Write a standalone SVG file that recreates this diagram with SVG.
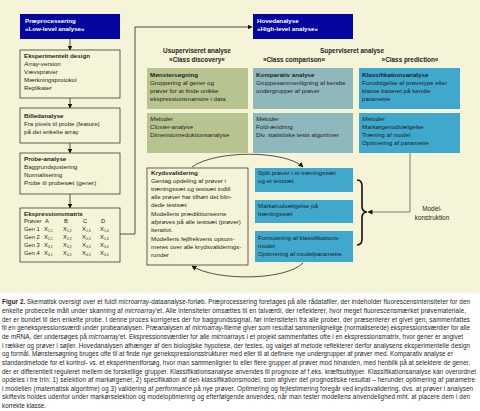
<svg xmlns="http://www.w3.org/2000/svg" width="480" height="411" viewBox="0 0 480 411">
<defs>
<style>
text{font-family:"Liberation Sans",Arial,sans-serif;font-size:6.2px;fill:#1e1e1e}
.b{font-weight:bold}
.i{font-style:italic}
.w{fill:#ffffff}
.hd{font-size:6.4px;text-anchor:middle}
.box{fill:#f6f4d8;stroke:#3c3c30;stroke-width:0.8}
.blue{fill:#0505a0}
.green{fill:#b7c48f}
.teal{fill:#8fb8bc}
.cyan{fill:#3fa8cc}
.ln{fill:none;stroke:#2a2a22;stroke-width:0.8}
.cap{font-size:6.3px}
.m{font-size:5.8px}
.s{font-size:3.4px}
</style>
<marker id="ah" viewBox="0 0 10 10" refX="9" refY="5" markerWidth="5" markerHeight="5" orient="auto" markerUnits="userSpaceOnUse">
<path d="M0,0 L10,5 L0,10 Z" fill="#111"/>
</marker>
</defs>
<rect x="0" y="0" width="480" height="411" fill="#ffffff"/>
<rect x="0" y="0" width="480" height="293" fill="#f6f4d8"/>

<g id="connectors">
<line class="ln" x1="70" y1="39" x2="70" y2="50" marker-end="url(#ah)"/>
<line class="ln" x1="70" y1="98" x2="70" y2="108" marker-end="url(#ah)"/>
<line class="ln" x1="70" y1="143" x2="70" y2="153" marker-end="url(#ah)"/>
<line class="ln" x1="70" y1="194" x2="70" y2="208" marker-end="url(#ah)"/>
<polyline class="ln" points="120,234 135,234 135,27 252,27" marker-end="url(#ah)"/>
<path class="ln" d="M192,167 C215,150 285,150 303,167" marker-end="url(#ah)"/>
<path class="ln" d="M303,263 C285,281 215,281 192,266" marker-end="url(#ah)"/>
<path d="M357,180 Q362,180 362,186 L362,206 Q362,212 367,212 Q362,212 362,218 L362,239 Q362,245 357,245" fill="none" stroke="#111" stroke-width="1.6"/>
<polyline points="410,153 410,212 368,212" fill="none" stroke="#5e5e50" stroke-width="0.8" marker-end="url(#ah)"/>
</g>

<g id="praeprocessering">
<rect class="blue" x="20" y="14" width="100" height="25"/>
<text class="w b" x="25" y="23">Præprocessering</text>
<text class="w b" x="25" y="31">»Low-level analyse«</text>
</g>

<g id="eksperimentelt-design">
<rect class="box" x="20" y="50" width="100" height="48"/>
<text class="b" x="24" y="58">Eksperimentelt design</text>
<text x="24" y="66"><tspan class="i">Array</tspan>-version</text>
<text x="24" y="74">Vævsprøver</text>
<text x="24" y="82">Mærkningsprotokol</text>
<text x="24" y="90">Replikater</text>
</g>

<g id="billedanalyse">
<rect class="box" x="20" y="108" width="100" height="35"/>
<text class="b" x="24" y="118">Billedanalyse</text>
<text x="24" y="126">Fra pixels til probe (feature)</text>
<text x="24" y="134">på det enkelte array</text>
</g>

<g id="probe-analyse">
<rect class="box" x="20" y="153" width="100" height="41"/>
<text class="b" x="24" y="161">Probe-analyse</text>
<text x="24" y="169">Baggrundsjustering</text>
<text x="24" y="177">Normalisering</text>
<text x="24" y="185">Probe til probesæt (gener)</text>
</g>

<g id="ekspressionsmatrix">
<rect class="box" x="20" y="208" width="100" height="54"/>
<text class="b" x="24" y="216">Ekspressionsmatrix</text>
<text class="m" x="24" y="223">Prøver</text>
<text class="m" x="45" y="223">A</text><text class="m" x="64" y="223">B</text><text class="m" x="83" y="223">C</text><text class="m" x="101" y="223">D</text>
<text class="m" x="24" y="231">Gen 1</text>
<text class="m" x="44" y="231">X<tspan class="s" dy="1">1,1</tspan></text>
<text class="m" x="63" y="231">X<tspan class="s" dy="1">1,2</tspan></text>
<text class="m" x="82" y="231">X<tspan class="s" dy="1">1,3</tspan></text>
<text class="m" x="100" y="231">X<tspan class="s" dy="1">1,4</tspan></text>
<text class="m" x="24" y="239">Gen 2</text>
<text class="m" x="44" y="239">X<tspan class="s" dy="1">2,1</tspan></text>
<text class="m" x="63" y="239">X<tspan class="s" dy="1">2,2</tspan></text>
<text class="m" x="82" y="239">X<tspan class="s" dy="1">2,3</tspan></text>
<text class="m" x="100" y="239">X<tspan class="s" dy="1">2,4</tspan></text>
<text class="m" x="24" y="247">Gen 3</text>
<text class="m" x="44" y="247">X<tspan class="s" dy="1">3,1</tspan></text>
<text class="m" x="63" y="247">X<tspan class="s" dy="1">3,2</tspan></text>
<text class="m" x="82" y="247">X<tspan class="s" dy="1">3,3</tspan></text>
<text class="m" x="100" y="247">X<tspan class="s" dy="1">3,4</tspan></text>
<text class="m" x="24" y="255">Gen 4</text>
<text class="m" x="44" y="255">X<tspan class="s" dy="1">4,1</tspan></text>
<text class="m" x="63" y="255">X<tspan class="s" dy="1">4,2</tspan></text>
<text class="m" x="82" y="255">X<tspan class="s" dy="1">4,3</tspan></text>
<text class="m" x="100" y="255">X<tspan class="s" dy="1">4,4</tspan></text>
</g>

<g id="hovedanalyse">
<rect class="blue" x="253" y="14" width="100" height="25"/>
<text class="w b" x="257" y="23">Hovedanalyse</text>
<text class="w b" x="257" y="31">»High-level analyse«</text>
</g>

<g id="headers">
<text class="b hd" x="197" y="53">Usuperviseret analyse</text>
<text class="b hd" x="197" y="62">»Class discovery«</text>
<text class="b hd" x="352" y="53">Superviseret analyse</text>
<text class="b hd" x="294" y="62">»Class comparison«</text>
<text class="b hd" x="410" y="62">»Class prediction«</text>
</g>

<g id="moenstersoegning">
<rect class="green" x="147" y="68" width="101" height="41"/>
<text class="b" x="150" y="77">Mønstersøgning</text>
<text x="150" y="85">Gruppering af gener og</text>
<text x="150" y="93">prøver for at finde unikke</text>
<text x="150" y="101">ekspressionsmønstre i data</text>
</g>

<g id="metoder-discovery">
<rect class="green" x="147" y="113" width="101" height="40"/>
<text class="i" x="150" y="121">Metoder</text>
<text class="i" x="150" y="129">Cluster-analyse</text>
<text x="150" y="137">Dimensionreduktionsanalyse</text>
</g>

<g id="komparativ">
<rect class="teal" x="253" y="68" width="100" height="41"/>
<text class="b" x="256" y="77">Komparativ analyse</text>
<text x="256" y="85">Gruppesammenligning af kendte</text>
<text x="256" y="93">undergrupper af prøver</text>
</g>

<g id="metoder-comparison">
<rect class="teal" x="253" y="113" width="100" height="40"/>
<text class="i" x="256" y="121">Metoder</text>
<text x="256" y="129">Fold-ændring</text>
<text x="256" y="137">Div. statistiske tests algoritmer</text>
</g>

<g id="klassifikation">
<rect class="cyan" x="359" y="68" width="101" height="41"/>
<text class="b" x="362" y="77">Klassifikationsanalyse</text>
<text x="362" y="85">Forudsigelse af prøvetype eller</text>
<text x="362" y="93">klasse baseret på kendte</text>
<text x="362" y="101">parametre</text>
</g>

<g id="metoder-prediction">
<rect class="cyan" x="359" y="113" width="101" height="40"/>
<text class="i" x="362" y="121">Metoder</text>
<text x="362" y="129">Markørgenudvælgelse</text>
<text x="362" y="137">Træning af model</text>
<text x="362" y="145">Optimering af parametre</text>
</g>

<g id="krydsvalidering">
<rect class="box" x="147" y="168" width="101" height="97"/>
<text class="b" x="151" y="175">Krydsvalidering</text>
<text x="151" y="183">Gentag opdeling af prøver i</text>
<text x="151" y="191">træningssæt og testsæt indtil</text>
<text x="151" y="199">alle prøver har tilhørt det blin-</text>
<text x="151" y="207">dede testsæt</text>
<text x="151" y="216">Modellens prædiktionsevne</text>
<text x="151" y="224">afprøves på alle testsæt (prøver)</text>
<text x="151" y="232">iterativt.</text>
<text x="151" y="241">Modellens fejlfrekvens opsum-</text>
<text x="151" y="249">meres over alle krydsvaliderings-</text>
<text x="151" y="257">runder</text>
</g>

<g id="split">
<rect class="cyan" x="255" y="168" width="98" height="24"/>
<text x="258" y="175">Split prøver i et træningssæt</text>
<text x="258" y="183">og et testsæt</text>
</g>

<g id="markoerudvaelgelse">
<rect class="cyan" x="255" y="200" width="98" height="23"/>
<text x="258" y="208">Markørudvælgelse på</text>
<text x="258" y="216">træningssæt</text>
</g>

<g id="formulering">
<rect class="cyan" x="255" y="231" width="98" height="31"/>
<text x="258" y="240">Formulering af klassifikations-</text>
<text x="258" y="248">model</text>
<text x="258" y="256">Optimering af modelparametre</text>
</g>

<g id="modelkonstruktion">
<text class="hd" x="432" y="211">Model-</text>
<text class="hd" x="432" y="220">konstruktion</text>
</g>

<g id="caption">
<text class="cap" x="2" y="304" textLength="468" lengthAdjust="spacing"><tspan class="b">Figur 2.</tspan> Skematisk oversigt over et fuldt <tspan class="i">microarray</tspan>-dataanalyse-forløb. Præprocessering foretages på alle rådatafiler, der indeholder fluorescensintensiteter for den</text>
<text class="cap" x="2" y="313" textLength="464" lengthAdjust="spacing">enkelte probecelle målt under skanning af <tspan class="i">microarray</tspan>'et. Alle intensiteter omsættes til en talværdi, der reflekterer, hvor meget fluorescensmærket prøvemateriale,</text>
<text class="cap" x="2" y="322" textLength="468" lengthAdjust="spacing">der er bundet til den enkelte probe. I denne proces korrigeres der for baggrundssignal, før intensiteten fra alle prober, der præsenterer et givet gen, sammenfattes</text>
<text class="cap" x="2" y="330" textLength="468" lengthAdjust="spacing">til en genekspressionsværdi under probeanalysen. Præanalysen af <tspan class="i">microarray</tspan>-filerne giver som resultat sammenlignelige (normaliserede) ekspressionsværdier for alle</text>
<text class="cap" x="2" y="339" textLength="461" lengthAdjust="spacing">de mRNA, der undersøges på <tspan class="i">microarray</tspan>'et. Ekspressionsværdier for alle <tspan class="i">microarrays</tspan> i et projekt sammenfattes ofte i en ekspressionsmatrix, hvor gener er angivet</text>
<text class="cap" x="2" y="348" textLength="468" lengthAdjust="spacing">i rækker og prøver i søjler. Hovedanalysen afhænger af den biologiske hypotese, der testes, og valget af metode reflekterer derfor analysens eksperimentelle design</text>
<text class="cap" x="2" y="356" textLength="451" lengthAdjust="spacing">og formål. Mønstersøgning bruges ofte til at finde nye genekspressionsstrukturer med eller til at definere nye undergrupper af prøver med. Komparativ analyse er</text>
<text class="cap" x="2" y="365" textLength="468" lengthAdjust="spacing">standardmetode for et kontrol- vs. et eksperimentforsøg, hvor man sammenligner to eller flere grupper af prøver mod hinanden, med henblik på at selektere de gener,</text>
<text class="cap" x="2" y="374" textLength="474" lengthAdjust="spacing">der er differentielt reguleret mellem de forskellige grupper. Klassifikationsanalyse anvendes til prognose af f.eks. kræftsubtyper. Klassifikationsanalyse kan overordnet</text>
<text class="cap" x="2" y="382" textLength="473" lengthAdjust="spacing">opdeles i tre trin: 1) selektion af markørgener, 2) specifikation af den klassifikationsmodel, som afgiver det prognostiske resultat – herunder optimering af parametre</text>
<text class="cap" x="2" y="391" textLength="471" lengthAdjust="spacing">i modellen (matematisk algoritme) og 3) validering af <tspan class="i">performance</tspan> på nye prøver. Optimering og fejlestimering foregår ved krydsvalidering, dvs. at prøver i analysen</text>
<text class="cap" x="2" y="399" textLength="468" lengthAdjust="spacing">skiftevis holdes udenfor under markørselektion og modeloptimering og efterfølgende anvendes, når man tester modellens anvendelighed mht. at placere dem i den</text>
<text class="cap" x="2" y="408">korrekte klasse.</text>
</g>
</svg>
